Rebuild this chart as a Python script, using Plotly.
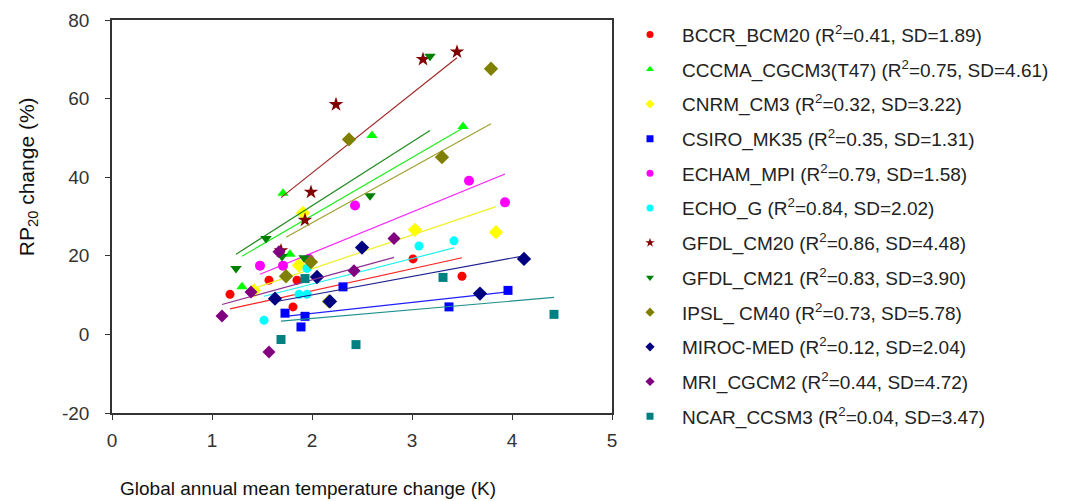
import plotly.graph_objects as go

# ---------------- data ----------------
models = ["BCCR_BCM20", "CCCMA_CGCM3(T47)", "CNRM_CM3", "CSIRO_MK35", "ECHAM_MPI",
          "ECHO_G", "GFDL_CM20", "GFDL_CM21", "IPSL_ CM40", "MIROC-MED",
          "MRI_CGCM2", "NCAR_CCSM3"]
r2_values = ["0.41", "0.75", "0.32", "0.35", "0.79", "0.84", "0.86", "0.83", "0.73", "0.12", "0.44", "0.04"]
sd_values = ["1.89", "4.61", "3.22", "1.31", "1.58", "2.02", "4.48", "3.90", "5.78", "2.04", "4.72", "3.47"]

bccr_x = [1.18, 1.57, 1.85, 1.81, 3.01, 3.50]
bccr_y = [10.2, 13.8, 13.8, 7.0, 19.2, 14.8]
cccma_x = [1.30, 1.71, 1.78, 2.60, 3.51]
cccma_y = [12.1, 35.9, 20.4, 50.6, 52.9]
cnrm_x = [1.42, 1.87, 1.91, 3.03, 3.84]
cnrm_y = [11.2, 17.6, 30.9, 26.6, 26.0]
csiro_x = [1.73, 1.89, 1.93, 2.31, 3.37, 3.96]
csiro_y = [5.4, 1.9, 4.6, 12.1, 7.0, 11.2]
echam_x = [1.48, 1.71, 1.97, 2.43, 3.57, 3.93]
echam_y = [17.5, 17.5, 19.2, 32.8, 39.1, 33.6]
echog_x = [1.52, 1.87, 1.95, 1.95, 3.07, 3.42]
echog_y = [3.6, 10.2, 10.2, 16.8, 22.5, 23.8]
gfdl20_x = [1.69, 1.93, 1.99, 2.24, 3.11, 3.45]
gfdl20_y = [21.3, 29.1, 36.2, 58.5, 70.0, 71.9]
gfdl21_x = [1.24, 1.54, 1.70, 1.92, 2.58, 3.18]
gfdl21_y = [16.8, 24.4, 19.8, 19.5, 35.3, 70.8]
ipsl_x = [1.74, 1.99, 2.17, 2.37, 3.30, 3.79]
ipsl_y = [14.8, 18.4, 8.4, 49.6, 45.1, 67.6]
miroc_x = [1.63, 2.05, 2.18, 2.50, 3.68, 4.12]
miroc_y = [9.1, 14.6, 8.4, 22.1, 10.4, 19.2]
mri_x = [1.10, 1.39, 1.57, 1.67, 2.42, 2.82]
mri_y = [4.7, 10.8, -4.5, 21.0, 16.2, 24.4]
ncar_x = [1.69, 1.93, 2.44, 3.31, 4.42]
ncar_y = [-1.3, 14.2, -2.6, 14.5, 5.1]

# trend line values at the smallest and largest temperature of each model
trend_y_start = [6.5, 19.9, 11.7, 4.6, 15.3, 9.7, 34.8, 20.4, 24.7, 8.3, 7.6, 3.4]
trend_y_end = [19.5, 52.5, 32.5, 10.8, 40.8, 22.0, 70.4, 51.9, 53.6, 20.0, 19.6, 9.4]

x_ticks = [0, 1, 2, 3, 4, 5]
y_ticks = [-20, 0, 20, 40, 60, 80]
y_tick_labels = ["-20", "0", "20", "40", "60", "80"]

xs = [bccr_x, cccma_x, cnrm_x, csiro_x, echam_x, echog_x, gfdl20_x, gfdl21_x, ipsl_x, miroc_x, mri_x, ncar_x]
ys = [bccr_y, cccma_y, cnrm_y, csiro_y, echam_y, echog_y, gfdl20_y, gfdl21_y, ipsl_y, miroc_y, mri_y, ncar_y]

# ---------------- styles ----------------
marker_colors = ["#FF0000", "#00FF00", "#FFFF00", "#0000FF", "#FF00FF", "#00FFFF",
                 "#800000", "#008000", "#808000", "#000080", "#800080", "#008080"]
line_colors = ["#FF2020", "#22EE22", "#F0F020", "#2020FF", "#FF20FF", "#20F0F0",
               "#A02828", "#208A20", "#A0A030", "#202090", "#903090", "#209090"]
symbols = ["circle", "triangle-up", "diamond", "square", "circle", "circle",
           "star", "triangle-down", "diamond", "diamond", "diamond", "square"]
sizes = [9, 10, 11, 9, 10, 9, 11, 10, 11, 11, 10, 9]

FONT = "Liberation Sans, Arial, sans-serif"

fig = go.Figure()

for i, name in enumerate(models):
    x = xs[i]
    y = ys[i]
    fig.add_trace(go.Scatter(
        x=[min(x), max(x)], y=[trend_y_start[i], trend_y_end[i]],
        mode="lines", line=dict(color=line_colors[i], width=1.2),
        showlegend=False, hoverinfo="skip"))
    fig.add_trace(go.Scatter(
        x=x, y=y, mode="markers",
        marker=dict(symbol=symbols[i], size=sizes[i], color=marker_colors[i],
                    line=dict(width=0)),
        name=name, showlegend=False))

# legend entries (small symbols as in the reference)
for i, name in enumerate(models):
    label = f"{name} (R<sup>2</sup>={r2_values[i]}, SD={sd_values[i]})"
    fig.add_trace(go.Scatter(
        x=[None], y=[None], mode="markers",
        marker=dict(symbol=symbols[i], size=7, color=marker_colors[i], line=dict(width=0)),
        name=label, legendgroup=f"g{i:02d}", showlegend=True))

# the page body has an 8px margin, so the figure is sized to fit the window
fig.update_layout(
    width=1058, height=493,
    margin=dict(l=104, r=454, t=12, b=88, autoexpand=False),
    paper_bgcolor="white", plot_bgcolor="white",
    font=dict(family=FONT, color="#222222"),
    legend=dict(
        x=1.012, y=1.011, xanchor="left", yanchor="top",
        font=dict(family=FONT, size=19, color="#222222"),
        itemwidth=54, tracegroupgap=7, bgcolor="rgba(0,0,0,0)",
        traceorder="grouped", maxheight=480),
    xaxis=dict(
        range=[0, 5], tickvals=x_ticks, showgrid=False, zeroline=False,
        showline=True, mirror=True, linecolor="#333333", linewidth=1.5,
        ticks="outside", ticklen=5, tickcolor="#333333",
        tickfont=dict(family=FONT, size=19, color="#333333"),
        ticklabelstandoff=4),
    yaxis=dict(
        range=[-20, 80], tickvals=y_ticks, ticktext=y_tick_labels,
        showgrid=False, zeroline=False,
        showline=True, mirror=True, linecolor="#333333", linewidth=1.5,
        ticks="outside", ticklen=5, tickcolor="#333333",
        tickfont=dict(family=FONT, size=19, color="#333333"),
        ticklabelstandoff=12),
    annotations=[
        dict(text="Global annual mean temperature change (K)", xref="paper", yref="paper",
             x=0.392, y=-0.191, xanchor="center", yanchor="middle", showarrow=False,
             font=dict(family=FONT, size=19, color="#111111")),
        dict(text="RP<sub>20</sub> change (%)", xref="paper", yref="paper",
             x=-0.168, y=0.60, xanchor="center", yanchor="middle", showarrow=False,
             textangle=-90, font=dict(family=FONT, size=21, color="#111111")),
    ],
)

fig.write_html("out.html")
